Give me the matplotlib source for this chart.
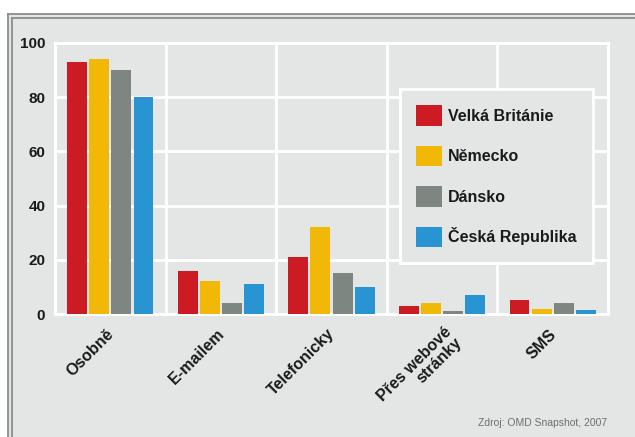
import matplotlib
matplotlib.use("Agg")
import matplotlib.pyplot as plt
from matplotlib.patches import Rectangle
from matplotlib.lines import Line2D
import matplotlib.transforms as mtransforms
import numpy as np

plt.rcParams['font.family'] = ['Liberation Sans', 'DejaVu Sans']

# data
categories = ['Osobně', 'E-mailem', 'Telefonicky', 'Přes webové\nstránky', 'SMS']
countries = ['Velká Británie', 'Německo', 'Dánsko', 'Česká Republika']
uk = [93, 16, 21, 3, 5]
de = [94, 12, 32, 4, 2]
dk = [90, 4, 15, 1, 4]
cz = [80, 11, 10, 7, 1.5]
series = [uk, de, dk, cz]
colors = ['#cc1b23', '#f2b807', '#7e8682', '#2895d2']

bg = '#e4e6e6'
W, H = 635, 437

fig = plt.figure(figsize=(W / 100, H / 100), dpi=100)
fig.patch.set_facecolor('white')

# grey panel with double border on top/left
fig.patches.append(Rectangle((8 / W, 0), 1, 1 - 14 / H, transform=fig.transFigure,
                             facecolor=bg, edgecolor='none', zorder=-5))
for off in (0, 4):
    fig.lines.append(Line2D([(8 + off) / W, 1], [1 - (14 + off) / H] * 2,
                            transform=fig.transFigure, color='#8a8c8c', lw=1.3, zorder=-4))
    fig.lines.append(Line2D([(8 + off) / W] * 2, [0, 1 - (14 + off) / H],
                            transform=fig.transFigure, color='#8a8c8c', lw=1.3, zorder=-4))

ax = fig.add_axes([55 / W, 1 - 314 / H, 553 / W, 271 / H])
ax.set_facecolor(bg)

x = np.arange(len(categories))
step = 0.2
width = 0.18
for i, (vals, col, name) in enumerate(zip(series, colors, countries)):
    ax.bar(x + (i - 1.5) * step, vals, width, color=col, label=name, zorder=3)

ax.set_xlim(-0.5, len(categories) - 0.5)
ax.set_ylim(0, 100)
ax.set_yticks([0, 20, 40, 60, 80, 100])
ax.set_xticks(x)
ax.set_xticks(np.arange(-0.5, len(categories)), minor=True)
ax.grid(True, which='minor', axis='x', color='white', lw=2, zorder=1)
ax.grid(True, which='major', axis='y', color='white', lw=2, zorder=1)
for s in ax.spines.values():
    s.set_color('white')
    s.set_linewidth(2)
ax.tick_params(axis='both', which='both', length=0)
ax.tick_params(axis='y', pad=7, labelsize=11)
for t in ax.get_yticklabels():
    t.set_fontweight('bold')
    t.set_color('#1a1a1a')

ax.set_xticklabels(categories, rotation=45, ha='right', va='center',
                   rotation_mode='anchor', fontsize=11.5, fontweight='bold',
                   color='#1a1a1a', multialignment='right')
ax.tick_params(axis='x', pad=12)
for t in ax.get_xticklabels():
    if '\n' in t.get_text():
        dx, dy = 12, -4
        t.set_linespacing(1.0)
    else:
        dx, dy = 1, -1
    off = mtransforms.ScaledTranslation(dx / 100, dy / 100, fig.dpi_scale_trans)
    t.set_transform(t.get_transform() + off)

leg = ax.legend(loc='upper left', bbox_to_anchor=(0.624, 0.83), fontsize=11.5,
                handlelength=1.6, handleheight=1.6, labelspacing=1.25,
                handletextpad=0.4, borderpad=1.0, borderaxespad=0,
                fancybox=False, facecolor=bg, edgecolor='white', framealpha=1)
leg.get_frame().set_linewidth(2)
for t in leg.get_texts():
    t.set_fontweight('bold')
    t.set_color('#1a1a1a')

fig.text(607 / W, 1 - 423 / H, 'Zdroj: OMD Snapshot, 2007', ha='right', va='center',
         fontsize=7.5, color='#6e6e6e')

fig.savefig('out.png', dpi=100, facecolor=fig.get_facecolor())
